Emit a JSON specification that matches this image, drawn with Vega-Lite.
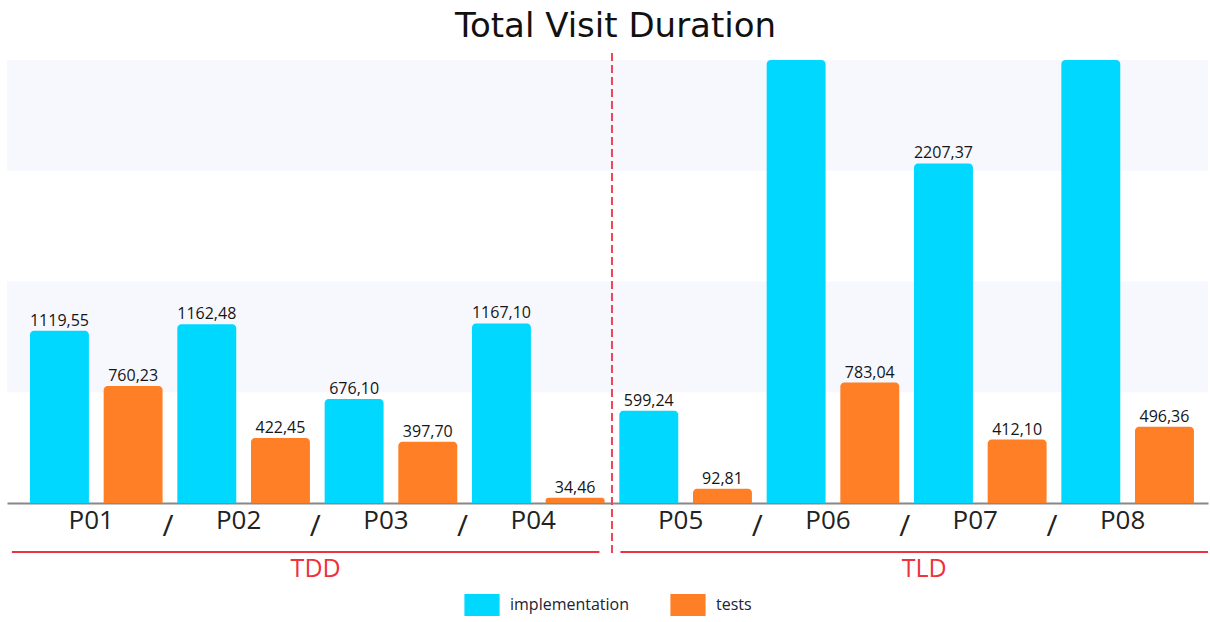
{
  "$schema": "https://vega.github.io/schema/vega-lite/v6.json",
  "width": 1201,
  "height": 443,
  "autosize": {"type": "none"},
  "padding": {"left": 7, "top": 60, "right": 2, "bottom": 119},
  "title": {
    "text": "Total Visit Duration",
    "font": "DejaVu Sans",
    "fontSize": 34,
    "fontWeight": "normal",
    "color": "#111111",
    "anchor": "middle",
    "baseline": "alphabetic",
    "offset": -19,
    "dx": 8
  },
  "config": {
    "view": {"stroke": null},
    "locale": {"number": {"decimal": ",", "thousands": ".", "grouping": [3], "currency": ["", ""]}},
    "axis": {"grid": false, "ticks": false, "title": null}
  },
  "datasets": {
    "visits": [
      {"participant": "P01", "group": "TDD", "type": "implementation", "value": 1119.55},
      {"participant": "P01", "group": "TDD", "type": "tests", "value": 760.23},
      {"participant": "P02", "group": "TDD", "type": "implementation", "value": 1162.48},
      {"participant": "P02", "group": "TDD", "type": "tests", "value": 422.45},
      {"participant": "P03", "group": "TDD", "type": "implementation", "value": 676.10},
      {"participant": "P03", "group": "TDD", "type": "tests", "value": 397.70},
      {"participant": "P04", "group": "TDD", "type": "implementation", "value": 1167.10},
      {"participant": "P04", "group": "TDD", "type": "tests", "value": 34.46},
      {"participant": "P05", "group": "TLD", "type": "implementation", "value": 599.24},
      {"participant": "P05", "group": "TLD", "type": "tests", "value": 92.81},
      {"participant": "P06", "group": "TLD", "type": "implementation", "value": 3100},
      {"participant": "P06", "group": "TLD", "type": "tests", "value": 783.04},
      {"participant": "P07", "group": "TLD", "type": "implementation", "value": 2207.37},
      {"participant": "P07", "group": "TLD", "type": "tests", "value": 412.10},
      {"participant": "P08", "group": "TLD", "type": "implementation", "value": 3300},
      {"participant": "P08", "group": "TLD", "type": "tests", "value": 496.36}
    ],
    "bands": [
      {"lo": 720, "hi": 1440},
      {"lo": 2160, "hi": 2880}
    ],
    "breaks": [
      {"participant": "P02"}, {"participant": "P03"}, {"participant": "P04"},
      {"participant": "P06"}, {"participant": "P07"}, {"participant": "P08"}
    ],
    "divider": [{"participant": "P05"}],
    "groups": [{"group": "TDD"}, {"group": "TLD"}]
  },
  "layer": [
    {
      "data": {"name": "bands"},
      "mark": {"type": "rect", "color": "#F7F8FE"},
      "encoding": {
        "y": {"field": "lo", "type": "quantitative", "scale": {"domain": [0, 2880], "nice": false, "zero": true, "clamp": true}, "axis": null},
        "y2": {"field": "hi"}
      }
    },
    {
      "layer": [
        {
          "data": {"name": "visits"},
          "mark": {"type": "bar", "cornerRadiusTopLeft": 4, "cornerRadiusTopRight": 4},
          "encoding": {
            "x": {
              "field": "participant", "type": "nominal",
              "scale": {"domain": ["P01", "P02", "P03", "P04", "P05", "P06", "P07", "P08"], "paddingInner": 0, "paddingOuter": 0.0757, "align": 0.7},
              "axis": {"labelFont": "Open Sans", "labelFontSize": 26, "labelColor": "#222222", "labelAngle": 0, "labelPadding": 4, "labelOffset": -5, "domainColor": "#888888", "domainWidth": 2}
            },
            "xOffset": {"field": "type", "type": "nominal", "scale": {"paddingInner": 0.2, "paddingOuter": 0.1}},
            "y": {"field": "value", "type": "quantitative", "stack": null},
            "color": {
              "field": "type", "type": "nominal",
              "scale": {"domain": ["implementation", "tests"], "range": ["#00D8FF", "#FF7F27"]},
              "legend": {
                "title": null,
                "orient": "none",
                "legendX": 464,
                "legendY": 534,
                "direction": "horizontal",
                "symbolType": "M-1.6,-1H1.6V1H-1.6Z",
                "symbolSize": 484,
                "symbolStrokeWidth": 0,
                "labelFont": "Open Sans",
                "labelFontSize": 16,
                "labelColor": "#222233",
                "labelOffset": 17,
                "columnPadding": 40
              }
            }
          }
        },
        {
          "data": {"name": "visits"},
          "transform": [{"filter": "datum.value <= 2880"}],
          "mark": {"type": "text", "font": "Open Sans", "fontSize": 16, "color": "#151515", "baseline": "alphabetic", "dy": -5},
          "encoding": {
            "x": {"field": "participant", "type": "nominal"},
            "xOffset": {"field": "type", "type": "nominal"},
            "y": {"field": "value", "type": "quantitative"},
            "text": {"field": "value", "type": "quantitative", "format": ".2f"}
          }
        },
        {
          "data": {"name": "breaks"},
          "mark": {"type": "text", "text": "/", "font": "Open Sans", "fontSize": 30, "color": "#222222", "baseline": "alphabetic", "dy": 33, "dx": -2},
          "encoding": {
            "x": {"field": "participant", "type": "nominal", "bandPosition": 0},
            "y": {"datum": 0}
          }
        },
        {
          "data": {"name": "divider"},
          "mark": {"type": "rule", "color": "#EE4455", "strokeWidth": 2, "strokeDash": [8, 4], "yOffset": -7, "y2Offset": 52},
          "encoding": {
            "x": {"field": "participant", "type": "nominal", "bandPosition": 0},
            "y": {"datum": 2880},
            "y2": {"datum": 0}
          }
        }
      ]
    },
    {
      "data": {"name": "groups"},
      "layer": [
        {
          "mark": {"type": "bar", "color": "#EE3340", "yOffset": 48, "y2Offset": 50},
          "encoding": {
            "x": {"field": "group", "type": "nominal", "scale": {"domain": ["TDD", "TLD"], "paddingInner": 0.0345, "paddingOuter": 0.004, "align": 1}, "axis": null},
            "y": {"datum": 0},
            "y2": {"datum": 0}
          }
        },
        {
          "mark": {"type": "text", "font": "Open Sans", "fontSize": 25, "color": "#EE3340", "baseline": "alphabetic", "dy": 74, "dx": 10},
          "encoding": {
            "x": {"field": "group", "type": "nominal"},
            "y": {"datum": 0},
            "text": {"field": "group"}
          }
        }
      ]
    }
  ],
  "resolve": {"scale": {"x": "independent"}, "axis": {"x": "independent"}}
}
